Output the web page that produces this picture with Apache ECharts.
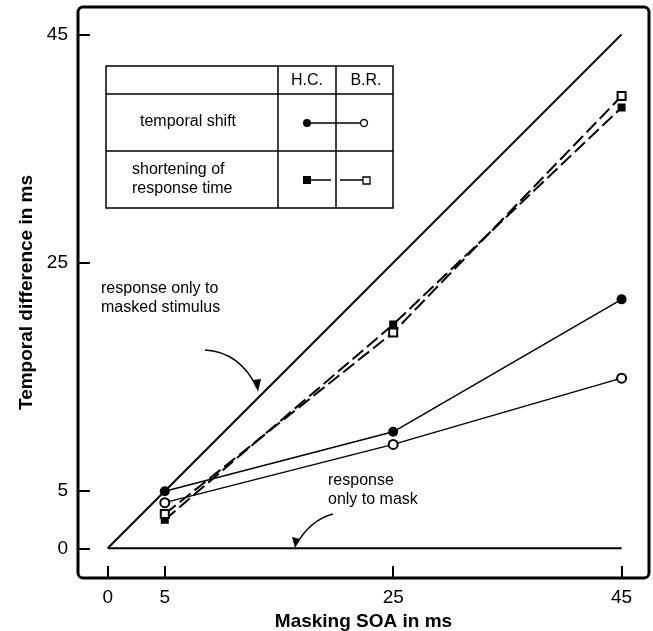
<!DOCTYPE html>
<html>
<head>
<meta charset="utf-8">
<script src="https://cdn.jsdelivr.net/npm/echarts@6/dist/echarts.min.js"></script>
<style>
  html, body { margin: 0; padding: 0; background: #fff; }
  #chart { width: 653px; height: 631px; }
</style>
</head>
<body>
<div id="chart"></div>
<script>
// masking SOA (ms)
var soa = [5, 25, 45];
// temporal shift
var hcShift = [5, 10.2, 21.8];
var brShift = [4.0, 9.1, 14.9];
// shortening of response time
var hcShorten = [2.5, 19.6, 38.6];
var brShorten = [3.0, 18.9, 39.6];
// reference lines
var maskedOnly = [[0, 0], [45, 45]];
var maskOnly = [[0, 0], [45, 0]];
var tickValues = [0, 5, 25, 45];

function pairs(ys) {
  return soa.map(function (x, i) { return [x, ys[i]]; });
}

var font = 'Liberation Sans';

var axisCommon = {
  type: 'value',
  min: -2.6,
  max: 47.4,
  axisLine: { show: false, onZero: false },
  splitLine: { show: false },
  axisTick: { show: true, inside: true, length: 12, customValues: tickValues,
    lineStyle: { color: '#000', width: 2 } },
  axisLabel: { customValues: tickValues, color: '#000', fontSize: 19, fontFamily: font, margin: 10 },
  nameLocation: 'middle',
  nameTextStyle: { color: '#000', fontSize: 19, fontWeight: 'bold', fontFamily: font }
};

var option = {
  backgroundColor: '#fff',
  animation: false,
  grid: { left: 78, top: 7, width: 571, height: 571, outerBoundsMode: 'none', containLabel: false },
  xAxis: Object.assign({}, axisCommon, { name: 'Masking SOA in ms', nameGap: 34 }),
  yAxis: Object.assign({}, axisCommon, { name: 'Temporal difference in ms', nameGap: 42 }),
  series: [
    { type: 'line', data: maskedOnly, symbol: 'none', lineStyle: { color: '#000', width: 2 }, z: 1 },
    { type: 'line', data: maskOnly, symbol: 'none', lineStyle: { color: '#000', width: 2 }, z: 1 },
    { type: 'line', data: pairs(hcShorten), symbol: 'rect', symbolSize: 8,
      itemStyle: { color: '#000' }, lineStyle: { color: '#000', width: 2, type: [14, 5] }, z: 3 },
    { type: 'line', data: pairs(brShorten), symbol: 'emptyRect', symbolSize: 8,
      itemStyle: { color: '#000', borderWidth: 1.3 }, lineStyle: { color: '#000', width: 2, type: [14, 5] }, z: 3 },
    { type: 'line', data: pairs(hcShift), symbol: 'circle', symbolSize: 10,
      itemStyle: { color: '#000' }, lineStyle: { color: '#000', width: 1.5 }, z: 4 },
    { type: 'line', data: pairs(brShift), symbol: 'emptyCircle', symbolSize: 9,
      itemStyle: { color: '#000', borderWidth: 1.3 }, lineStyle: { color: '#000', width: 1.5 }, z: 4 }
  ],
  graphic: [
    // frame
    { type: 'rect', shape: { x: 78, y: 7, width: 571, height: 571, r: 5 },
      style: { fill: 'none', stroke: '#000', lineWidth: 3 }, z: 10 },
    // legend table
    { type: 'rect', shape: { x: 106, y: 66, width: 287, height: 142 },
      style: { fill: '#fff', stroke: '#000', lineWidth: 1.5 }, z: 5 },
    { type: 'line', shape: { x1: 106, y1: 94, x2: 393, y2: 94 }, style: { stroke: '#000', lineWidth: 1.5 }, z: 6 },
    { type: 'line', shape: { x1: 106, y1: 151, x2: 393, y2: 151 }, style: { stroke: '#000', lineWidth: 1.5 }, z: 6 },
    { type: 'line', shape: { x1: 278, y1: 66, x2: 278, y2: 208 }, style: { stroke: '#000', lineWidth: 1.5 }, z: 6 },
    { type: 'line', shape: { x1: 336, y1: 66, x2: 336, y2: 208 }, style: { stroke: '#000', lineWidth: 1.5 }, z: 6 },
    { type: 'text', x: 307, y: 81, style: { text: 'H.C.', fill: '#000', font: '16px ' + font, align: 'center', verticalAlign: 'middle' }, z: 6 },
    { type: 'text', x: 366, y: 81, style: { text: 'B.R.', fill: '#000', font: '16px ' + font, align: 'center', verticalAlign: 'middle' }, z: 6 },
    { type: 'text', x: 188, y: 122, style: { text: 'temporal shift', fill: '#000', font: '16px ' + font, align: 'center', verticalAlign: 'middle' }, z: 6 },
    { type: 'text', x: 132, y: 179, style: { text: 'shortening of\nresponse time', fill: '#000', font: '16px ' + font, lineHeight: 19, align: 'left', verticalAlign: 'middle' }, z: 6 },
    { type: 'line', shape: { x1: 307, y1: 123, x2: 364, y2: 123 }, style: { stroke: '#000', lineWidth: 1.5 }, z: 6 },
    { type: 'circle', shape: { cx: 307, cy: 123, r: 4 }, style: { fill: '#000' }, z: 7 },
    { type: 'circle', shape: { cx: 364, cy: 123, r: 3.5 }, style: { fill: '#fff', stroke: '#000', lineWidth: 1.3 }, z: 7 },
    { type: 'line', shape: { x1: 307, y1: 180, x2: 331, y2: 180 }, style: { stroke: '#000', lineWidth: 1.5 }, z: 6 },
    { type: 'line', shape: { x1: 340, y1: 180, x2: 366, y2: 180 }, style: { stroke: '#000', lineWidth: 1.5 }, z: 6 },
    { type: 'rect', shape: { x: 303, y: 176, width: 8, height: 8 }, style: { fill: '#000' }, z: 7 },
    { type: 'rect', shape: { x: 363, y: 177, width: 7, height: 7 }, style: { fill: '#fff', stroke: '#000', lineWidth: 1.3 }, z: 7 },
    // annotations
    { type: 'text', x: 101, y: 298, style: { text: 'response only to\nmasked stimulus', fill: '#000', font: '16px ' + font, lineHeight: 19, align: 'left', verticalAlign: 'middle' }, z: 6 },
    { type: 'bezierCurve', shape: { x1: 205, y1: 350, cpx1: 240, cpy1: 352, x2: 257, y2: 388 },
      style: { stroke: '#000', lineWidth: 1.5, fill: 'none' }, z: 6 },
    { type: 'polygon', shape: { points: [[253, 380], [261, 379], [258, 392]] }, style: { fill: '#000' }, z: 6 },
    { type: 'text', x: 328, y: 490, style: { text: 'response\nonly to mask', fill: '#000', font: '16px ' + font, lineHeight: 19, align: 'left', verticalAlign: 'middle' }, z: 6 },
    { type: 'bezierCurve', shape: { x1: 333, y1: 514, cpx1: 310, cpy1: 520, x2: 296, y2: 545 },
      style: { stroke: '#000', lineWidth: 1.3, fill: 'none' }, z: 6 },
    { type: 'polygon', shape: { points: [[292, 537], [300, 539], [295, 548]] }, style: { fill: '#000' }, z: 6 }
  ]
};

var myChart = echarts.init(document.getElementById('chart'));
myChart.setOption(option);
</script>
</body>
</html>
